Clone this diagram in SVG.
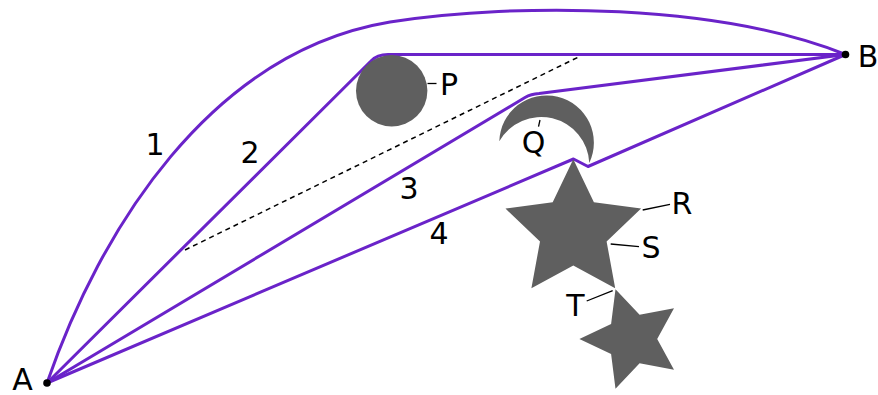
<svg xmlns="http://www.w3.org/2000/svg" width="878" height="395" viewBox="0 0 878 395">
<style>
text{font-family:"DejaVu Sans","Liberation Sans",sans-serif;font-size:30px;fill:#000;text-anchor:middle}
.route{fill:none;stroke:#6a23c9;stroke-width:3;stroke-linejoin:round}
.obst{fill:#5f5f5f;stroke:none}
.lead{stroke:#000;stroke-width:1.3;fill:none}
.dash{stroke:#000;stroke-width:1.5;stroke-dasharray:5,4;fill:none}
.pt{fill:#000}
</style>
<rect width="878" height="395" fill="#fff"/>
<g id="connectors">
<path class="route" d="M47,383 C100,230 210,52 390,22 C520,2 720,4 845.5,54.5"/>
<path class="route" d="M47,383 L371,61 Q377,54.5 388,54.5 L845.5,54.5"/>
<path class="route" d="M47,383 L525,97.5 Q531,94 539,93.5 L845.5,54.5"/>
<path class="route" d="M47,383 L573.5,159 L588,166.5 L845.5,54.5"/>
<line class="dash" x1="185" y1="250" x2="579.5" y2="56.5"/>
<text x="155" y="155">1</text>
<text x="250" y="163">2</text>
<text x="409" y="199">3</text>
<text x="439" y="244">4</text>
</g>
<g id="node-A">
<circle class="pt" cx="47" cy="383" r="3.8"/>
<text x="22.5" y="390" font-size="29">A</text>
</g>
<g id="node-B">
<circle class="pt" cx="845.5" cy="54.5" r="3.8"/>
<text x="868" y="66.5">B</text>
</g>
<g id="node-P">
<circle class="obst" cx="391.7" cy="90.8" r="35.7"/>
<line class="lead" x1="427.5" y1="83.5" x2="436.5" y2="83.5"/>
<text x="449" y="95">P</text>
</g>
<g id="node-Q">
<path class="obst" d="M499.3,141.3 A47.3,47.3 0 1 1 589.3,163 A48.2,48.2 0 0 0 499.3,141.3 Z"/>
<line class="lead" x1="540" y1="120" x2="538.5" y2="126.7"/>
<text x="533.5" y="153">Q</text>
</g>
<g id="node-RS">
<polygon class="obst" points="573.3,159.3 593.9,202.3 641.1,208.6 606.6,241.4 615.2,288.3 573.3,265.6 531.4,288.3 540,241.4 505.5,208.6 552.7,202.3"/>
<line class="lead" x1="642.7" y1="210" x2="670" y2="204.3"/>
<text x="682" y="214">R</text>
<line class="lead" x1="610.7" y1="244" x2="639" y2="246.7"/>
<text x="651" y="258">S</text>
</g>
<g id="node-T">
<polygon class="obst" points="579.4,339 611.1,324 615.5,289.3 639.6,314.7 674,308.3 657.2,339 674,369.7 639.6,363.3 615.5,388.7 611.1,354"/>
<line class="lead" x1="586.7" y1="301" x2="612.7" y2="290.7"/>
<text x="575.5" y="315.5">T</text>
</g>
</svg>
